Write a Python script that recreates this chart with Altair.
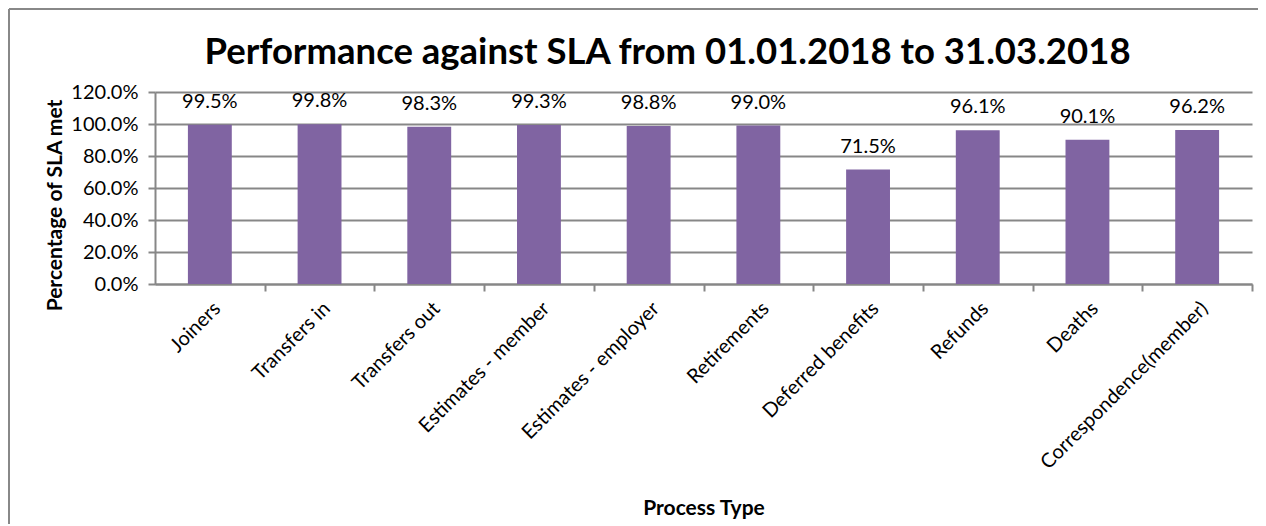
import altair as alt
import pandas as pd

categories = ["Joiners", "Transfers in", "Transfers out", "Estimates - member",
              "Estimates - employer", "Retirements", "Deferred benefits",
              "Refunds", "Deaths", "Correspondence(member)"]
values = [0.995, 0.998, 0.983, 0.993, 0.988, 0.990, 0.715, 0.961, 0.901, 0.962]
y_ticks = [0.0, 0.2, 0.4, 0.6, 0.8, 1.0, 1.2]

df = pd.DataFrame({"Process Type": categories, "value": values})

FONT = "Lato"
W, H = 1097, 192
GRID = "#878787"
STEP = W / len(categories)

x_enc = alt.X("Process Type:N", sort=categories,
              scale=alt.Scale(paddingInner=0.6, paddingOuter=0.3),
              axis=alt.Axis(title="Process Type", labelAngle=-45, labelFontSize=20,
                            labelFont=FONT, labelColor="#000", labelPadding=7,
                            labelLimit=400, labelOverlap=False,
                            tickOffset=STEP / 2, labelOffset=-STEP / 2,
                            tickSize=7, tickColor=GRID,
                            domainColor=GRID, domainWidth=2, tickWidth=2,
                            titleFont=FONT, titleFontSize=21, titleFontWeight="bold",
                            titleColor="#000", titleX=W / 2, titleY=224,
                            titleBaseline="middle", titleAlign="center", grid=False))
y_enc = alt.Y("value:Q", scale=alt.Scale(domain=[0, 1.2], nice=False),
              axis=alt.Axis(title="Percentage of SLA met", values=y_ticks, format=".1%",
                            labelFontSize=20, labelFont=FONT, labelColor="#000",
                            labelOverlap=False, tickSize=7, tickColor=GRID, tickWidth=2,
                            domainColor=GRID, domainWidth=2, grid=True, gridColor=GRID,
                            gridWidth=2, labelPadding=10,
                            titleFont=FONT, titleFontSize=21, titleFontWeight="bold",
                            titleColor="#000", titleX=-100, titleY=113,
                            titleBaseline="middle", titleAlign="center"))

bars = alt.Chart(df).mark_bar(color="#8064A2").encode(x=x_enc, y=y_enc)
labels = alt.Chart(df).mark_text(font=FONT, fontSize=20, baseline="middle", dy=-23,
                                 color="#000").encode(
    x=x_enc, y=y_enc,
    text=alt.Text("value:Q", format=".1%"))

edge = alt.Chart(alt.Data(values=[{"a": 1}]))
top_line = edge.mark_rule(color="#888888", strokeWidth=2).encode(
    x=alt.value(-146), x2=alt.value(W + 300), y=alt.value(-83))
left_line = edge.mark_rule(color="#888888", strokeWidth=2).encode(
    x=alt.value(-146), y=alt.value(-83), y2=alt.value(H + 400))

chart = alt.layer(top_line, left_line, bars, labels).properties(
    width=W, height=H,
    title=alt.TitleParams("Performance against SLA from 01.01.2018 to 31.03.2018",
                          font=FONT, fontSize=36.5, fontWeight="bold", color="#000",
                          anchor="middle", dx=-36, baseline="middle", offset=-81.5),
    autosize=alt.AutoSizeParams(type="none"),
    padding={"left": 147, "top": 84, "right": 6, "bottom": 240},
).configure_view(stroke=None)

chart.save("out.html", embed_options={"renderer": "svg", "actions": False})
